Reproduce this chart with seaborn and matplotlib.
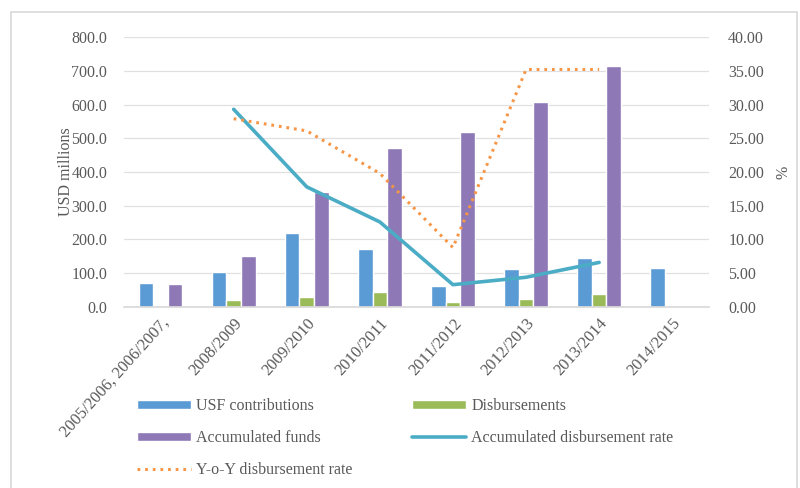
import matplotlib
matplotlib.use("Agg")
import matplotlib.pyplot as plt
import seaborn as sns
import numpy as np
import pandas as pd
from matplotlib.patches import Rectangle, Patch
from matplotlib.lines import Line2D

categories = ["2005/2006, 2006/2007,", "2008/2009", "2009/2010", "2010/2011",
              "2011/2012", "2012/2013", "2013/2014", "2014/2015"]
usf_contributions = [72, 105, 218, 173, 63, 112, 144, 114]
disbursements = [0, 21, 29, 44, 16, 25, 38, 0]
accumulated_funds = [67, 151, 342, 472, 520, 608, 714, 0]
acc_disb_rate = [np.nan, 29.3, 17.8, 12.6, 3.3, 4.4, 6.6, np.nan]
yoy_disb_rate = [np.nan, 27.9, 26.1, 19.8, 8.8, 35.2, 35.2, np.nan]

series_names = ["USF contributions", "Disbursements", "Accumulated funds"]
colors = {"USF contributions": "#5b9bd5", "Disbursements": "#9bbb59",
          "Accumulated funds": "#8e78b6"}
c_acc = "#4bacc6"
c_yoy = "#f79646"

sns.set_theme(style="white")
plt.rcParams["font.family"] = ["Liberation Serif", "DejaVu Serif"]

df = pd.DataFrame({
    "Year": categories * 3,
    "Series": sum([[s] * len(categories) for s in series_names], []),
    "Value": usf_contributions + disbursements + accumulated_funds,
})

fs = 11.5
fig = plt.figure(figsize=(8, 4.88), dpi=100)
ax = fig.add_axes([0.155, 0.371, 0.731, 0.553])

sns.barplot(data=df, x="Year", y="Value", hue="Series", palette=colors,
            order=categories, hue_order=series_names, width=0.6,
            ax=ax, legend=False, saturation=1)
ax.set_ylim(0, 800)
ax.set_xlim(-0.5, len(categories) - 0.5)
ax.set_yticks(np.arange(0, 801, 100))
ax.set_yticklabels([f"{v:.1f}" for v in np.arange(0, 801, 100)])
ax.yaxis.grid(True, color="#e0e0e0", linewidth=0.9)
ax.set_axisbelow(True)
for s in ["top", "right", "left"]:
    ax.spines[s].set_visible(False)
ax.spines["bottom"].set_color("#d9d9d9")
ax.tick_params(axis="both", colors="#595959", labelsize=fs, length=0, pad=12)
ax.set_xlabel("")
ax.set_ylabel("USD millions", color="#595959", fontsize=fs, labelpad=-2)
ax.set_xticks(range(len(categories)))
ax.set_xticklabels(categories, rotation=48, ha="right", rotation_mode="anchor",
                   fontsize=12)
ax.tick_params(axis="x", pad=6)

ax2 = ax.twinx()
x_idx = np.arange(len(categories))
sns.lineplot(x=x_idx, y=acc_disb_rate, ax=ax2, color=c_acc, linewidth=2.6)
sns.lineplot(x=x_idx, y=yoy_disb_rate, ax=ax2, color=c_yoy, linewidth=2.2,
             linestyle=(0, (0.9, 1.6)))
ax2.set_ylim(0, 40)
ax2.set_yticks(np.arange(0, 41, 5))
ax2.set_yticklabels([f"{v:.2f}" for v in np.arange(0, 41, 5)])
for s in ["top", "right", "left", "bottom"]:
    ax2.spines[s].set_visible(False)
ax2.tick_params(axis="y", colors="#595959", labelsize=fs, length=0, pad=14)
ax2.set_ylabel("%", color="#595959", fontsize=fs, labelpad=8)
ax2.grid(False)

h_usf = Patch(facecolor=colors["USF contributions"])
h_dis = Patch(facecolor=colors["Disbursements"])
h_acc = Patch(facecolor=colors["Accumulated funds"])
h_rate = Line2D([0], [0], color=c_acc, linewidth=2.6)
h_yoy = Line2D([0], [0], color=c_yoy, linewidth=2.2, linestyle=(0, (0.9, 1.6)))
handles = [h_usf, h_acc, h_yoy, h_dis, h_rate]
labels = ["USF contributions", "Accumulated funds", "Y-o-Y disbursement rate",
          "Disbursements", "Accumulated disbursement rate"]
leg = fig.legend(handles, labels, ncol=2, loc="upper left",
                 bbox_to_anchor=(0.153, 0.213), frameon=False,
                 fontsize=fs, handlelength=3.4, handleheight=0.5,
                 handletextpad=0.3, columnspacing=3.75, labelspacing=1.0,
                 labelcolor="#595959")

fig.patches.append(Rectangle((11 / 800, -0.05), 786 / 800, 1.05 - 12 / 488,
                             transform=fig.transFigure, fill=False,
                             edgecolor="#d9d9d9", linewidth=1.2))

fig.savefig("out.png", dpi=100)
